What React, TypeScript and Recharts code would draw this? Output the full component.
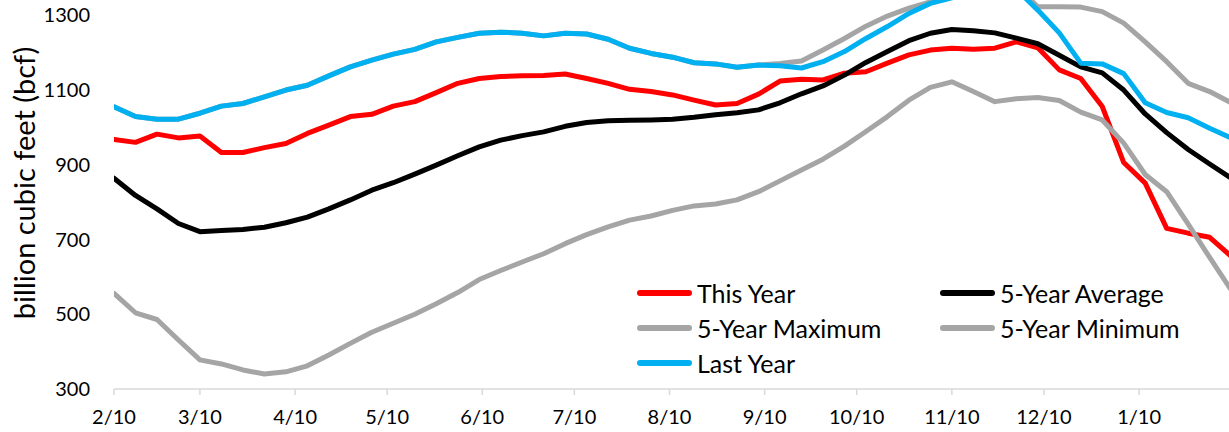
import React from 'react';
import { LineChart, Line, XAxis, YAxis, Legend } from 'recharts';

const weeks = [
  '2/10', '2/17', '2/24', '3/3', '3/10', '3/17', '3/24', '3/31', '4/7', '4/14', '4/21', '4/28',
  '5/5', '5/12', '5/19', '5/26', '6/2', '6/9', '6/16', '6/23', '6/30', '7/7', '7/14', '7/21',
  '7/28', '8/4', '8/11', '8/18', '8/25', '9/1', '9/8', '9/15', '9/22', '9/29', '10/6', '10/13',
  '10/20', '10/27', '11/3', '11/10', '11/17', '11/24', '12/1', '12/8', '12/15', '12/22', '12/29',
  '1/5', '1/12', '1/19', '1/26', '2/2', '2/9',
];

const thisYear = [
  968, 960, 982, 972, 977, 933, 933, 946, 957, 984, 1006, 1029, 1035, 1057, 1069, 1093, 1118,
  1131, 1136, 1138, 1139, 1143, 1131, 1118, 1102, 1096, 1087, 1073, 1060, 1064, 1089, 1124,
  1129, 1127, 1145, 1149, 1172, 1194, 1207, 1212, 1209, 1212, 1229, 1213, 1154, 1131, 1056,
  906, 851, 730, 717, 706, 655,
];

const fiveYearAverage = [
  864, 818, 782, 743, 721, 724, 727, 733, 745, 760, 782, 806, 832, 852, 875, 899, 924, 948,
  966, 978, 988, 1003, 1013, 1018, 1019, 1020, 1022, 1027, 1034, 1039, 1047, 1066, 1090, 1111,
  1140, 1174, 1203, 1232, 1252, 1262, 1259, 1253, 1239, 1224, 1193, 1162, 1146, 1100, 1036,
  986, 941, 902, 864,
];

const fiveYearMaximum = [
  1055, 1029, 1022, 1022, 1038, 1057, 1064, 1082, 1100, 1113, 1138, 1162, 1180, 1196, 1209,
  1229, 1241, 1252, 1255, 1252, 1245, 1252, 1250, 1236, 1212, 1198, 1188, 1173, 1170, 1161,
  1167, 1171, 1178, 1207, 1238, 1271, 1298, 1319, 1336, 1355, 1370, 1380, 1378, 1323, 1323,
  1322, 1310, 1279, 1229, 1176, 1118, 1096, 1066,
];

const fiveYearMinimum = [
  556, 504, 486, 431, 378, 367, 351, 340, 346, 362, 391, 422, 452, 476, 500, 528, 558, 593,
  617, 640, 662, 689, 713, 734, 752, 763, 778, 790, 795, 806, 828, 857, 886, 915, 950, 989,
  1029, 1073, 1107, 1122, 1096, 1069, 1077, 1080, 1072, 1041, 1020, 958, 874, 828, 741, 652, 565,
];

const lastYear = [
  1055, 1029, 1022, 1022, 1038, 1057, 1064, 1082, 1100, 1113, 1138, 1162, 1180, 1196, 1209,
  1229, 1241, 1252, 1255, 1252, 1245, 1252, 1250, 1236, 1212, 1198, 1188, 1173, 1170, 1161,
  1167, 1165, 1159, 1176, 1203, 1238, 1270, 1305, 1332, 1347, 1362, 1370, 1370, 1314, 1253,
  1172, 1170, 1144, 1066, 1040, 1026, 998, 972,
];

const xTickLabels = ['2/10', '3/10', '4/10', '5/10', '6/10', '7/10', '8/10', '9/10', '10/10', '11/10', '12/10', '1/10'];
const yTicks = [300, 500, 700, 900, 1100, 1300];

const MONTH_START = [0, 31, 59, 90, 120, 151, 181, 212, 243, 273, 304, 334];
const dayOfYear = (md: string) => {
  const [m, d] = md.split('/').map(Number);
  return MONTH_START[m - 1] + d;
};
const START = dayOfYear(weeks[0]);
const dayOffset = (md: string) => {
  let doy = dayOfYear(md);
  if (doy < START) doy += 365;
  return doy - START;
};

const data = weeks.map((w, i) => ({
  day: dayOffset(w),
  label: w,
  thisYear: thisYear[i],
  fiveYearAverage: fiveYearAverage[i],
  fiveYearMaximum: fiveYearMaximum[i],
  fiveYearMinimum: fiveYearMinimum[i],
  lastYear: lastYear[i],
}));

const xTicks = xTickLabels.map(dayOffset);

const series = [
  { key: 'thisYear', name: 'This Year', color: '#FF0000' },
  { key: 'fiveYearAverage', name: '5-Year Average', color: '#000000' },
  { key: 'fiveYearMaximum', name: '5-Year Maximum', color: '#A5A5A5' },
  { key: 'fiveYearMinimum', name: '5-Year Minimum', color: '#A5A5A5' },
  { key: 'lastYear', name: 'Last Year', color: '#00B0F0' },
];

const FONT = 'Lato, "Open Sans", sans-serif';

const renderLegend = () => (
  <div
    style={{
      display: 'grid',
      gridTemplateColumns: '303px auto',
      gridAutoRows: '35px',
      fontFamily: FONT,
    }}
  >
    {series.map((s) => (
      <div key={s.key} style={{ display: 'flex', alignItems: 'center', whiteSpace: 'nowrap' }}>
        <span
          style={{
            display: 'inline-block',
            width: 55,
            height: 6,
            borderRadius: 3,
            background: s.color,
            marginRight: 5,
          }}
        />
        <span style={{ fontSize: 25, lineHeight: '35px', color: '#000' }}>{s.name}</span>
      </div>
    ))}
  </div>
);

const YLabel = () => (
  <text
    transform="translate(35,183) rotate(-90)"
    textAnchor="middle"
    fontSize={29}
    fontFamily={FONT}
    fill="#000"
  >
    billion cubic feet (bcf)
  </text>
);

export default function App() {
  return (
    <div style={{ position: 'absolute', left: 0, top: 0, width: 1229, height: 432, fontFamily: FONT, background: '#fff' }}>
      <LineChart width={1229} height={432} data={data} margin={{ top: 0, right: 0, bottom: 0, left: 0 }}>
        <XAxis
          dataKey="day"
          type="number"
          domain={[0, 363.3]}
          ticks={xTicks}
          interval={0}
          allowDataOverflow
          height={43}
          axisLine={{ stroke: '#D9D9D9', strokeWidth: 1.5 }}
          tickLine={{ stroke: '#D9D9D9', strokeWidth: 1.5 }}
          tickSize={6}
          tickMargin={15}
          tick={{ fill: '#000', fontSize: 20, fontFamily: FONT }}
          tickFormatter={(v: number) => xTickLabels[xTicks.indexOf(v)] ?? ''}
        />
        <YAxis
          type="number"
          domain={[300, 1341]}
          ticks={yTicks}
          interval={0}
          allowDataOverflow
          width={114}
          axisLine={false}
          tickLine={false}
          tickSize={6}
          tickMargin={18}
          tick={{ fill: '#000', fontSize: 20, fontFamily: FONT }}
          label={{ content: () => <YLabel /> }}
        />
        <Legend
          layout="vertical"
          align="center"
          verticalAlign="middle"
          content={renderLegend}
          wrapperStyle={{ left: 637, top: 275.5, width: 560, height: 105 }}
        />
        {series.map((s) => (
          <Line
            key={s.key}
            type="linear"
            dataKey={s.key}
            name={s.name}
            stroke={s.color}
            strokeWidth={5}
            strokeLinejoin="round"
            strokeLinecap="round"
            dot={false}
            activeDot={false}
            isAnimationActive={false}
          />
        ))}
      </LineChart>
    </div>
  );
}
